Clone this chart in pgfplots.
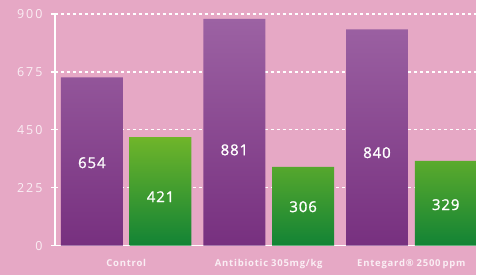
\documentclass[border=0pt]{standalone}
\usepackage{pgfplots}
\pgfplotsset{compat=1.18}
\usepackage{pgfplotstable}
\usepackage{fontspec}
\setmainfont{Open Sans}
\newfontfamily\tickfont[LetterSpace=15]{Open Sans}
\newfontfamily\catfont[LetterSpace=8]{Open Sans}
\newfontfamily\valfont[LetterSpace=6,FakeBold=1.2]{Open Sans}
\definecolor{bgpink}{HTML}{E6A8C5}
\definecolor{ptop}{HTML}{9C62A3}
\definecolor{pbot}{HTML}{77307F}
\definecolor{gtop}{HTML}{6FB52A}
\definecolor{gbot}{HTML}{128335}
\definecolor{ticktxt}{HTML}{FAEEF4}
\pgfplotstableread{
x  v    ly
0  654  322
1  881  372
2  840  361
}\purpledata
\pgfplotstableread{
x  v    ly
0  421  190
1  306  151
2  329  159
}\greendata
\begin{document}
\begin{tikzpicture}
\fill[bgpink] (0,0) rectangle (477pt,275pt);
\begin{axis}[
  at={(55pt,29pt)}, anchor=south west,
  scale only axis, width=422pt, height=232pt,
  xmin=-0.5, xmax=2.455, ymin=0, ymax=900,
  axis lines*=left,
  axis line style={white, line width=1.6pt},
  xtick={0,1,2},
  xticklabels={Control, Antibiotic\hspace{3pt}305mg/kg, Entegard\textregistered\hspace{3pt}2500\hspace{2pt}ppm},
  xtick style={draw=none},
  ytick={0,225,450,675,900},
  ytick style={white, line width=1.3pt},
  tick align=outside, major tick length=4pt,
  ymajorgrids,
  grid style={white, line width=1.3pt, dash pattern=on 3pt off 3pt},
  /pgf/number format/assume math mode=true,
  yticklabel style={font=\tickfont\fontsize{12.5}{12.5}\selectfont, text=ticktxt, xshift=-5pt},
  xticklabel style={font=\catfont\bfseries\fontsize{9.5}{9.5}\selectfont, text=ticktxt, yshift=-6pt},
  bar width=0.434,
  clip=false,
]
\addplot[ybar, bar shift=-0.241, draw=none, top color=ptop, bottom color=pbot] table[x=x, y=v] {\purpledata};
\addplot[ybar, bar shift=0.241, draw=none, top color=gtop, bottom color=gbot] table[x=x, y=v] {\greendata};
\addplot[only marks, mark=none, point meta=explicit, nodes near coords,
  nodes near coords style={anchor=center, text=white, font=\valfont\fontsize{15}{15}\selectfont}]
  table[x expr=\thisrow{x}-0.241, y=ly, meta=v] {\purpledata};
\addplot[only marks, mark=none, point meta=explicit, nodes near coords,
  nodes near coords style={anchor=center, text=white, font=\valfont\fontsize{15}{15}\selectfont}]
  table[x expr=\thisrow{x}+0.241, y=ly, meta=v] {\greendata};
\end{axis}
\end{tikzpicture}
\end{document}
